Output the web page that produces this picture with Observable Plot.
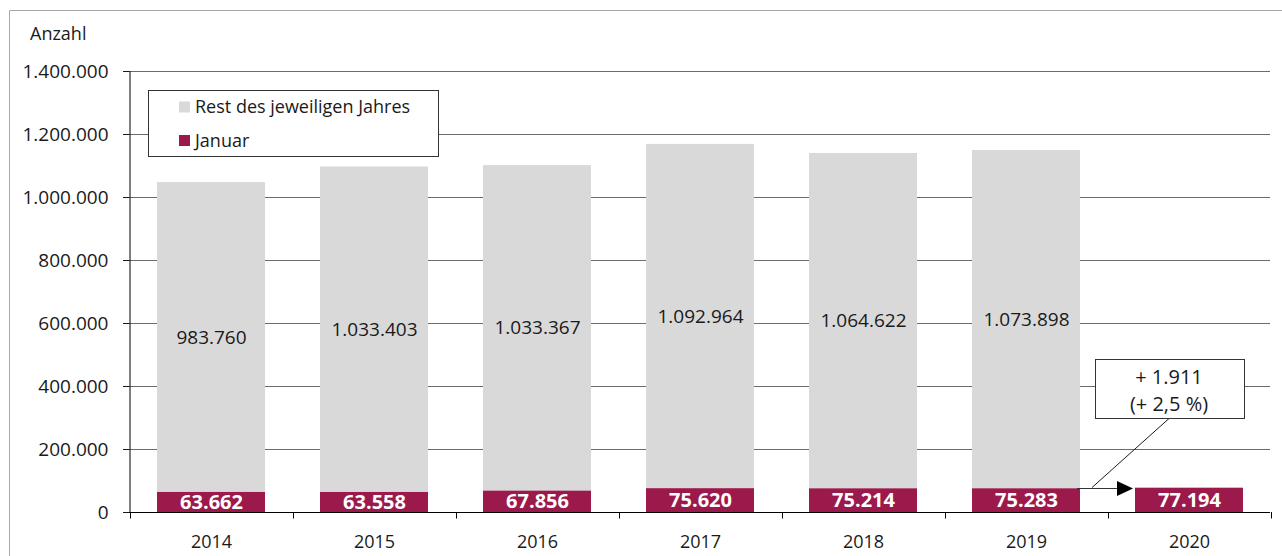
<!DOCTYPE html>
<html>
<head>
<meta charset="utf-8">
<script src="https://cdn.jsdelivr.net/npm/d3@7"></script>
<script src="https://cdn.jsdelivr.net/npm/@observablehq/plot@0.6"></script>
<style>
  html, body { margin: 0; padding: 0; background: #fff; }
  #chart svg { display: block; }
</style>
</head>
<body>
<div id="chart"></div>
<script>
const years = ["2014", "2015", "2016", "2017", "2018", "2019", "2020"];
const januar = [63662, 63558, 67856, 75620, 75214, 75283, 77194];
const rest = [983760, 1033403, 1033367, 1092964, 1064622, 1073898, null];
const yTicks = [0, 200000, 400000, 600000, 800000, 1000000, 1200000, 1400000];
const seriesNames = ["Rest des jeweiligen Jahres", "Januar"];
const annotationLines = ["+ 1.911", "(+ 2,5 %)"];
const yLabel = "Anzahl";

const colRest = "#d9d9d9";
const colJan = "#9b1a4b";
const font = "'Open Sans', 'DejaVu Sans', sans-serif";

const de = d3.formatLocale({decimal: ",", thousands: ".", grouping: [3], currency: ["", " €"]});
const fmt = de.format(",d");

const janData = years.map((y, i) => ({year: y, v: januar[i]}));
const restData = years.map((y, i) => ({year: y, j: januar[i], v: rest[i]})).filter(d => d.v != null);

const W = 1282, H = 556;
const plot = Plot.plot({
  width: W,
  height: H,
  marginLeft: 129,
  marginRight: 12,
  marginTop: 71,
  marginBottom: 44,
  style: {fontFamily: font, fontSize: "18px", color: "#1a1a1a", background: "#fff"},
  x: {domain: years, paddingInner: 0.34, paddingOuter: 0.17, tickSize: 0, tickPadding: 23, label: null},
  y: {domain: [0, 1400000], ticks: yTicks, tickFormat: fmt, tickSize: 6, tickPadding: 15, label: null},
  marks: [
    Plot.ruleY(yTicks.slice(1), {stroke: "#6b6b6b", strokeWidth: 1}),
    Plot.barY(restData, {x: "year", y1: "j", y2: d => d.j + d.v, fill: colRest}),
    Plot.barY(janData, {x: "year", y1: 0, y2: "v", fill: colJan}),
    Plot.ruleY([0], {stroke: "#000", strokeWidth: 1}),
    Plot.text(restData, {x: "year", y: d => d.j + d.v / 2, text: d => fmt(d.v), fontSize: 19, fill: "#1a1a1a"}),
    Plot.text(janData, {x: "year", y: d => d.v / 2, text: d => fmt(d.v), fontSize: 20, fontWeight: "bold", fill: "#fff"})
  ]
});

document.getElementById("chart").appendChild(plot);

const svg = d3.select(plot);
svg.selectAll('g[aria-label^="y-axis"] text').attr("font-size", 19);

const xs = plot.scale("x");
const ys = plot.scale("y");
const step = xs.step;
const bw = xs.bandwidth;
const gap = (step - bw) / 2;
const y0 = ys.apply(0);
const yTop = ys.apply(1400000);
const xLeft = xs.apply(years[0]) - gap;

const g = svg.append("g").attr("font-family", font).attr("text-anchor", "start");

// y axis line
g.append("line").attr("x1", xLeft + 0.5).attr("x2", xLeft + 0.5)
  .attr("y1", yTop).attr("y2", y0 + 0.5).attr("stroke", "#000");

// x category boundary ticks
const bounds = years.map(y => xs.apply(y) - gap).concat([xs.apply(years[years.length - 1]) + bw + gap]);
bounds.forEach(bx => {
  g.append("line").attr("x1", Math.round(bx) + 0.5).attr("x2", Math.round(bx) + 0.5)
    .attr("y1", y0).attr("y2", y0 + 6.5).attr("stroke", "#000");
});

// outer border
g.append("path").attr("d", `M9.5,${H} V10.5 H${W}`).attr("fill", "none").attr("stroke", "#a8a8a8");

// y label
g.append("text").attr("x", 30).attr("y", 40).attr("text-anchor", "start").attr("font-size", 18).attr("fill", "#1a1a1a").text(yLabel);

// legend
const lg = g.append("g");
lg.append("rect").attr("x", 148.5).attr("y", 90.5).attr("width", 290).attr("height", 66)
  .attr("fill", "#fff").attr("stroke", "#333");
[colRest, colJan].forEach((c, i) => {
  const yy = 101.5 + i * 33.5;
  lg.append("rect").attr("x", 179).attr("y", yy).attr("width", 11).attr("height", 11).attr("fill", c);
  lg.append("text").attr("x", 195).attr("y", yy + 11.5).attr("text-anchor", "start")
    .attr("font-size", 18).attr("fill", "#1a1a1a").text(seriesNames[i]);
});

// annotation
const i19 = years.indexOf("2019"), i20 = years.indexOf("2020");
const ay = Math.round(ys.apply(januar[i19])) + 0.5;
const ax1 = xs.apply(years[i19]) + bw - 3;
const ax2 = xs.apply(years[i20]) - 2;
const boxCx = bounds[i20] + 61.5;
const boxW = 149, boxH = 59, boxY = 359.5;
g.append("line").attr("x1", ax1).attr("x2", ax2 - 14).attr("y1", ay).attr("y2", ay).attr("stroke", "#333").attr("stroke-width", 1.2);
g.append("path").attr("d", `M${ax2 - 16},${ay - 7.5} L${ax2},${ay} L${ax2 - 16},${ay + 7.5} Z`).attr("fill", "#000");
g.append("line").attr("x1", boxCx).attr("y1", boxY + boxH).attr("x2", ax1 + 15).attr("y2", ay - 1)
  .attr("stroke", "#1a1a1a").attr("stroke-width", 1);
g.append("rect").attr("x", Math.round(boxCx - boxW / 2) + 0.5).attr("y", boxY).attr("width", boxW).attr("height", boxH)
  .attr("fill", "#fff").attr("stroke", "#333");
annotationLines.forEach((t, i) => {
  g.append("text").attr("x", boxCx).attr("y", 384 + i * 27).attr("text-anchor", "middle")
    .attr("font-size", 20).attr("fill", "#1a1a1a").text(t);
});
</script>
</body>
</html>
